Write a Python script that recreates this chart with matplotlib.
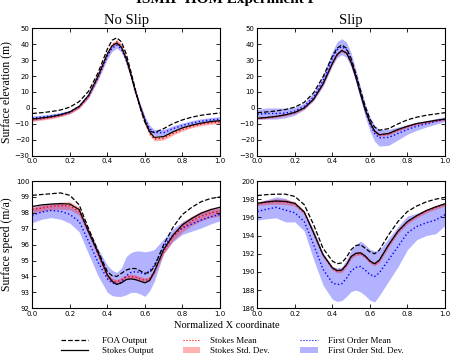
import matplotlib
matplotlib.use("Agg")
import matplotlib.pyplot as plt
from matplotlib.lines import Line2D
from matplotlib.patches import Patch
import numpy as np

x = [0.0, 0.05, 0.1, 0.15, 0.2, 0.25, 0.3, 0.35, 0.4, 0.425, 0.45, 0.475, 0.5,
     0.525, 0.55, 0.575, 0.6, 0.625, 0.65, 0.7, 0.75, 0.8, 0.85, 0.9, 0.95, 1.0]

# surface elevation, no slip
foa_elev_ns = [-3.5, -3.0, -2.3, -1.3, 0.5, 4.0, 10.5, 22.0, 37.0, 42.5, 44.0, 41.5, 34.0,
               23.0, 11.0, 0.0, -9.0, -14.5, -15.5, -13.0, -9.8, -7.5, -5.8, -4.6, -3.8, -3.2]
stokes_elev_ns = [-7.0, -6.3, -5.5, -4.3, -2.5, 1.0, 8.0, 20.0, 34.0, 39.0, 40.8, 38.0, 31.0,
                  21.0, 10.0, 1.0, -8.0, -15.0, -18.5, -18.0, -15.0, -12.5, -10.8, -9.5, -8.5, -8.0]
stokes_mean_elev_ns = [-7.5, -6.8, -6.0, -4.8, -3.0, 0.5, 7.5, 19.5, 34.0, 39.5, 41.5, 39.0, 31.5,
                       21.0, 9.5, 0.0, -9.0, -16.0, -19.5, -19.0, -16.0, -13.5, -11.5, -10.2, -9.3, -8.8]
stokes_std_elev_ns = [1.0, 0.9, 0.8, 0.8, 0.8, 0.9, 1.0, 1.2, 1.3, 1.3, 1.3, 1.3, 1.3,
                      1.3, 1.3, 1.3, 1.2, 1.2, 1.2, 1.2, 1.1, 1.0, 1.0, 1.0, 1.0, 1.0]
fo_mean_elev_ns = [-6.5, -5.8, -5.0, -4.0, -2.5, 1.0, 7.5, 19.0, 32.5, 37.5, 39.5, 37.0, 30.0,
                   20.5, 10.0, 1.0, -7.0, -13.0, -15.5, -15.5, -13.0, -11.0, -9.5, -8.3, -7.5, -7.0]
fo_std_elev_ns = [1.5, 1.3, 1.2, 1.1, 1.0, 1.0, 1.2, 1.5, 1.8, 2.0, 2.0, 2.0, 1.8,
                  1.8, 1.8, 1.8, 1.8, 2.0, 2.0, 2.0, 1.8, 1.6, 1.5, 1.5, 1.5, 1.5]

# surface elevation, slip
foa_elev_s = [-3.0, -2.5, -1.9, -1.0, 0.5, 3.5, 9.5, 19.5, 32.5, 37.5, 39.5, 37.5, 31.0,
              21.5, 11.0, 1.0, -7.0, -12.0, -14.0, -13.0, -10.0, -7.5, -5.8, -4.6, -3.8, -3.0]
stokes_elev_s = [-6.5, -6.0, -5.3, -4.3, -2.8, 0.0, 5.5, 15.0, 28.0, 33.5, 36.0, 34.5, 28.5,
                 19.5, 9.0, -1.0, -9.0, -14.5, -16.8, -16.0, -13.5, -11.5, -9.8, -8.8, -7.8, -7.0]
stokes_mean_elev_s = [-6.6, -6.1, -5.4, -4.4, -2.9, -0.1, 5.4, 15.0, 28.0, 33.5, 36.2, 34.6, 28.5,
                      19.4, 8.8, -1.2, -9.2, -14.8, -17.0, -16.3, -13.8, -11.7, -10.0, -9.0, -8.0, -7.2]
stokes_std_elev_s = [0.6, 0.6, 0.6, 0.6, 0.6, 0.6, 0.6, 0.7, 0.8, 0.8, 0.8, 0.8, 0.8,
                     0.8, 0.8, 0.8, 0.8, 0.8, 0.8, 0.7, 0.7, 0.6, 0.6, 0.6, 0.6, 0.6]
fo_mean_elev_s = [-4.0, -3.5, -3.5, -3.2, -2.0, 1.0, 7.0, 17.0, 31.0, 36.5, 38.5, 36.5, 30.0,
                  20.0, 9.0, -1.5, -10.0, -16.0, -18.8, -18.5, -16.0, -13.5, -11.5, -10.0, -8.5, -7.0]
fo_std_elev_s = [3.0, 3.5, 3.5, 3.0, 2.5, 2.0, 2.5, 3.5, 4.5, 5.0, 5.0, 4.8, 4.5,
                 4.0, 4.0, 4.0, 4.5, 5.0, 5.2, 5.0, 4.0, 3.0, 2.5, 2.0, 1.8, 1.5]

# surface speed, no slip
foa_speed_ns = [99.1, 99.15, 99.2, 99.25, 99.1, 98.5, 97.0, 95.6, 94.3, 94.05, 94.0, 94.2, 94.4,
                94.5, 94.5, 94.35, 94.2, 94.25, 94.6, 96.0, 97.1, 97.9, 98.35, 98.7, 98.9, 99.0]
stokes_speed_ns = [98.4, 98.5, 98.55, 98.58, 98.55, 98.2, 96.8, 95.5, 94.1, 93.7, 93.5, 93.6, 93.8,
                   93.85, 93.8, 93.7, 93.6, 93.75, 94.3, 95.7, 96.6, 97.25, 97.65, 97.98, 98.2, 98.35]
stokes_mean_speed_ns = [98.2, 98.3, 98.4, 98.45, 98.45, 98.1, 96.8, 95.4, 94.0, 93.75, 93.65, 93.8, 93.95,
                        94.0, 93.95, 93.85, 93.75, 93.85, 94.3, 95.6, 96.5, 97.1, 97.5, 97.8, 98.0, 98.1]
stokes_std_speed_ns = [0.2, 0.2, 0.2, 0.22, 0.25, 0.25, 0.2, 0.15, 0.15, 0.15, 0.15, 0.15, 0.15,
                       0.15, 0.15, 0.15, 0.15, 0.15, 0.15, 0.2, 0.25, 0.3, 0.3, 0.3, 0.3, 0.3]
fo_mean_speed_ns = [97.85, 98.05, 98.15, 98.1, 97.9, 97.45, 96.2, 94.9, 93.85, 93.6, 93.5, 93.65, 94.05,
                    94.25, 94.3, 94.25, 94.15, 94.35, 94.7, 95.9, 96.6, 97.05, 97.3, 97.55, 97.75, 97.9]
fo_std_speed_ns = [0.47, 0.45, 0.45, 0.5, 0.55, 0.65, 0.8, 0.85, 0.85, 0.8, 0.75, 0.9, 1.2,
                   1.25, 1.3, 1.35, 1.4, 1.25, 1.0, 0.45, 0.4, 0.4, 0.45, 0.5, 0.45, 0.4]

# surface speed, slip
foa_speed_s = [198.4, 198.5, 198.55, 198.55, 198.3, 197.4, 195.2, 192.6, 191.2, 190.9, 191.0, 191.6, 192.45,
               192.9, 193.0, 192.6, 192.2, 192.0, 192.4, 194.1, 195.55, 196.65, 197.25, 197.7, 198.0, 198.2]
stokes_speed_s = [197.55, 197.7, 197.8, 197.75, 197.55, 196.6, 194.3, 191.9, 190.45, 190.15, 190.2, 190.8, 191.7,
                  192.05, 192.1, 191.75, 191.2, 190.9, 191.3, 193.0, 194.5, 195.55, 196.2, 196.75, 197.15, 197.5]
stokes_mean_speed_s = [197.5, 197.65, 197.75, 197.7, 197.5, 196.55, 194.25, 191.85, 190.4, 190.1, 190.15, 190.75, 191.65,
                       192.0, 192.05, 191.7, 191.15, 190.85, 191.25, 192.95, 194.45, 195.5, 196.15, 196.7, 197.1, 197.45]
stokes_std_speed_s = [0.2, 0.25, 0.3, 0.3, 0.25, 0.2, 0.2, 0.2, 0.2, 0.2, 0.2, 0.2, 0.2,
                      0.2, 0.2, 0.2, 0.2, 0.2, 0.2, 0.2, 0.2, 0.2, 0.2, 0.2, 0.2, 0.2]
fo_mean_speed_s = [196.65, 196.9, 197.1, 196.8, 196.5, 195.55, 193.0, 190.3, 188.8, 188.6, 188.7, 189.3, 190.1,
                   190.5, 190.6, 190.2, 189.7, 189.5, 189.9, 191.35, 192.8, 194.3, 195.0, 195.4, 195.7, 196.3]
fo_std_speed_s = [0.95, 1.05, 1.15, 1.3, 1.0, 1.05, 1.65, 1.75, 1.8, 1.85, 1.85, 2.0, 2.25,
                  2.5, 2.8, 2.8, 2.8, 2.8, 2.5, 2.35, 2.2, 1.85, 1.45, 1.4, 1.5, 1.2]

serif = "Liberation Serif"

fig = plt.figure(figsize=(4.53, 3.59), dpi=100)

W, H = 453.0, 359.0
boxes = [
    (32.3, 28.3, 220.0, 155.7),
    (257.3, 28.3, 445.0, 155.7),
    (32.3, 181.0, 220.0, 308.3),
    (257.3, 181.0, 445.0, 308.3),
]
axes = []
for (l, t, r, b) in boxes:
    axes.append(fig.add_axes([l / W, 1 - b / H, (r - l) / W, (b - t) / H]))

panels = [
    (foa_elev_ns, stokes_elev_ns, stokes_mean_elev_ns, stokes_std_elev_ns, fo_mean_elev_ns, fo_std_elev_ns),
    (foa_elev_s, stokes_elev_s, stokes_mean_elev_s, stokes_std_elev_s, fo_mean_elev_s, fo_std_elev_s),
    (foa_speed_ns, stokes_speed_ns, stokes_mean_speed_ns, stokes_std_speed_ns, fo_mean_speed_ns, fo_std_speed_ns),
    (foa_speed_s, stokes_speed_s, stokes_mean_speed_s, stokes_std_speed_s, fo_mean_speed_s, fo_std_speed_s),
]

xs = np.array(x)
for ax, (foa, sto, smean, sstd, fmean, fstd) in zip(axes, panels):
    fmean = np.array(fmean)
    fstd = np.array(fstd)
    smean = np.array(smean)
    sstd = np.array(sstd)
    ax.fill_between(xs, fmean - fstd, fmean + fstd, color="blue", alpha=0.3, linewidth=0)
    ax.fill_between(xs, smean - sstd, smean + sstd, color="red", alpha=0.3, linewidth=0)
    ax.plot(xs, fmean, "b:", linewidth=1)
    ax.plot(xs, smean, "r:", linewidth=1)
    ax.plot(xs, foa, "k--", linewidth=0.9)
    ax.plot(xs, sto, "k-", linewidth=0.9)
    ax.set_xlim(0, 1)
    ax.set_xticks([0.0, 0.2, 0.4, 0.6, 0.8, 1.0])
    ax.tick_params(direction="in", top=True, right=True, labelsize=5, length=3, width=0.6, pad=2)
    for sp in ax.spines.values():
        sp.set_linewidth(0.8)

for ax in axes[:2]:
    ax.set_ylim(-30, 50)
    ax.set_yticks(range(-30, 51, 10))
axes[2].set_ylim(92, 100)
axes[2].set_yticks(range(92, 101))
axes[3].set_ylim(186, 200)
axes[3].set_yticks(range(186, 201, 2))

axes[0].set_title("No Slip", family=serif, fontsize=10.5, pad=3)
axes[1].set_title("Slip", family=serif, fontsize=10.5, pad=3)
axes[0].set_ylabel("Surface elevation (m)", family=serif, fontsize=8.5, labelpad=2)
axes[2].set_ylabel("Surface speed (m/a)", family=serif, fontsize=8.5, labelpad=2)

fig.text(0.5, 1 - 3.0 / H, "ISMIP-HOM Experiment F", family=serif, fontsize=11,
         fontweight="bold", ha="center", va="baseline")
fig.text(0.5, 1 - 326.0 / H, "Normalized X coordinate", family=serif, fontsize=7.5,
         ha="center", va="center")

legend_cols = [
    ([Line2D([], [], color="k", linestyle="--", linewidth=0.9),
      Line2D([], [], color="k", linestyle="-", linewidth=0.9)],
     ["FOA Output", "Stokes Output"], 61.0, 3.0, 1.5),
    ([Line2D([], [], color="r", linestyle=":", linewidth=0.8),
      Patch(facecolor="red", alpha=0.3, linewidth=0)],
     ["Stokes Mean", "Stokes Std. Dev."], 183.0, 1.9, 1.1),
    ([Line2D([], [], color="b", linestyle=":", linewidth=0.8),
      Patch(facecolor="blue", alpha=0.3, linewidth=0)],
     ["First Order Mean", "First Order Std. Dev."], 300.0, 2.0, 1.1),
]
for handles, labels, x0, hlen, hpad in legend_cols:
    fig.legend(handles, labels, loc="center left", bbox_to_anchor=(x0 / W, 1 - 346.0 / H),
               frameon=False, borderpad=0, borderaxespad=0, handlelength=hlen,
               handletextpad=hpad, labelspacing=0.25, prop={"family": serif, "size": 6.5})

fig.savefig("out.png", dpi=100)
